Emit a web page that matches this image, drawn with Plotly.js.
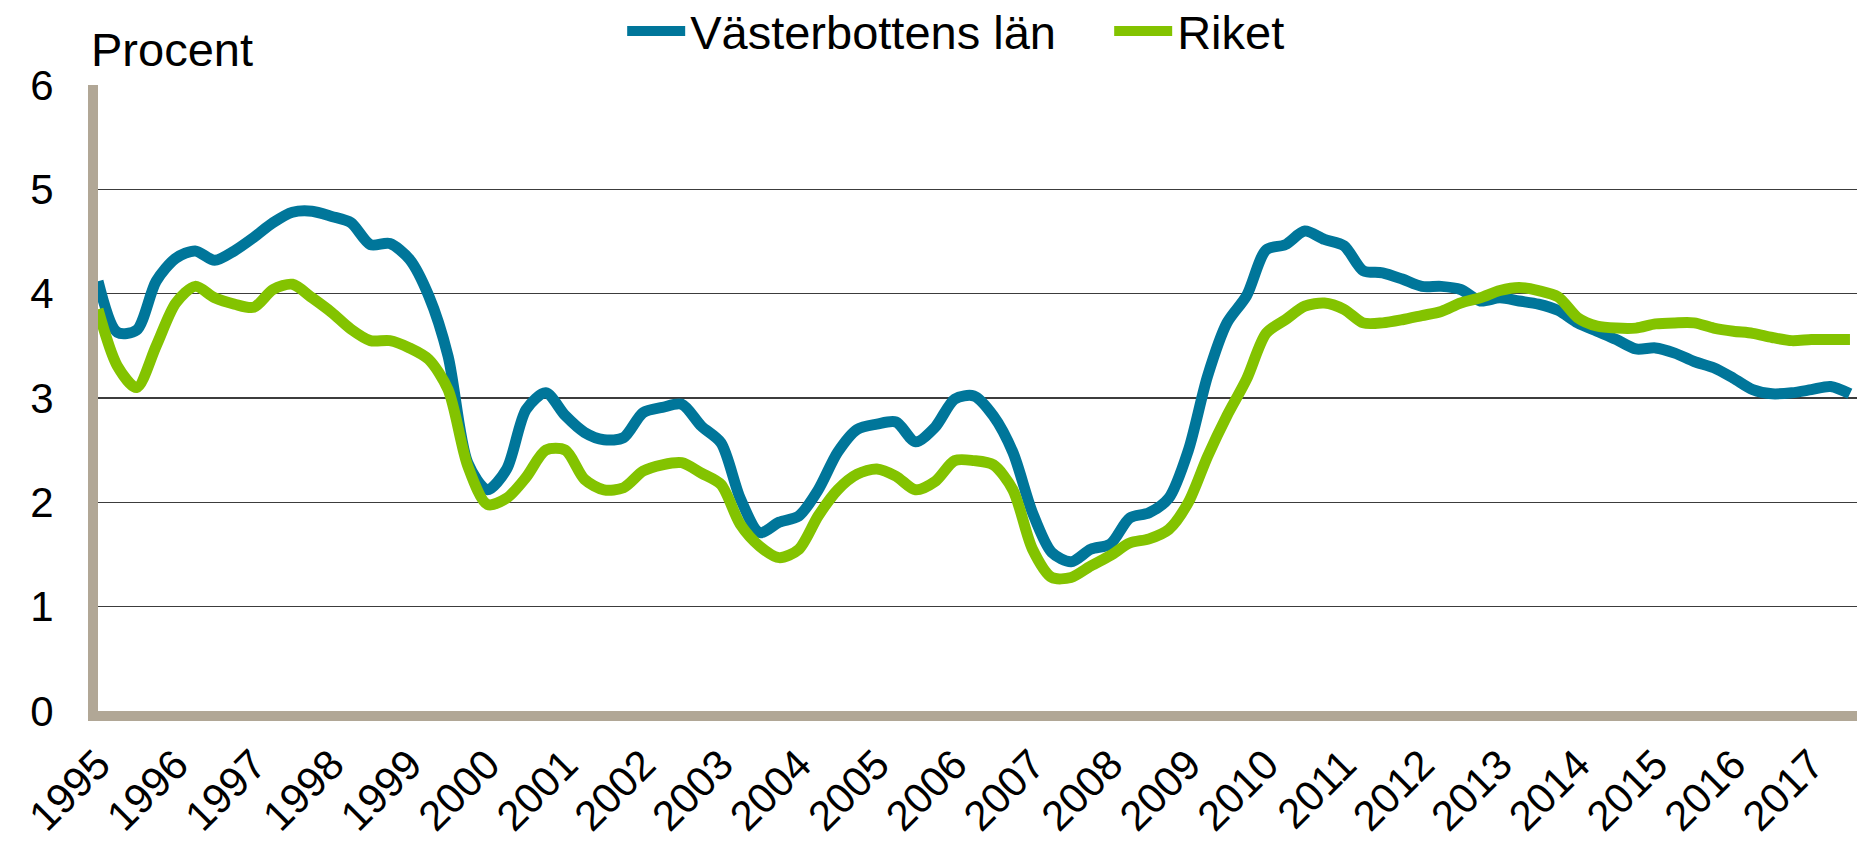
<!DOCTYPE html>
<html>
<head>
<meta charset="utf-8">
<script src="https://cdn.plot.ly/plotly-3.0.1.min.js"></script>
<style>
  html, body { margin: 0; padding: 0; background: #ffffff; }
  #chart { width: 1857px; height: 846px; }
</style>
</head>
<body>
<div id="chart"></div>
<script>
// Quarterly sample dates (Jan, Apr, Jul, Oct)
const dates = [
  "1995-01-01","1995-04-01","1995-07-01","1995-10-01",
  "1996-01-01","1996-04-01","1996-07-01","1996-10-01",
  "1997-01-01","1997-04-01","1997-07-01","1997-10-01",
  "1998-01-01","1998-04-01","1998-07-01","1998-10-01",
  "1999-01-01","1999-04-01","1999-07-01","1999-10-01",
  "2000-01-01","2000-04-01","2000-07-01","2000-10-01",
  "2001-01-01","2001-04-01","2001-07-01","2001-10-01",
  "2002-01-01","2002-04-01","2002-07-01","2002-10-01",
  "2003-01-01","2003-04-01","2003-07-01","2003-10-01",
  "2004-01-01","2004-04-01","2004-07-01","2004-10-01",
  "2005-01-01","2005-04-01","2005-07-01","2005-10-01",
  "2006-01-01","2006-04-01","2006-07-01","2006-10-01",
  "2007-01-01","2007-04-01","2007-07-01","2007-10-01",
  "2008-01-01","2008-04-01","2008-07-01","2008-10-01",
  "2009-01-01","2009-04-01","2009-07-01","2009-10-01",
  "2010-01-01","2010-04-01","2010-07-01","2010-10-01",
  "2011-01-01","2011-04-01","2011-07-01","2011-10-01",
  "2012-01-01","2012-04-01","2012-07-01","2012-10-01",
  "2013-01-01","2013-04-01","2013-07-01","2013-10-01",
  "2014-01-01","2014-04-01","2014-07-01","2014-10-01",
  "2015-01-01","2015-04-01","2015-07-01","2015-10-01",
  "2016-01-01","2016-04-01","2016-07-01","2016-10-01",
  "2017-01-01","2017-04-01","2017-07-01"
];

const vasterbotten = [
  4.12, 3.63, 3.65, 4.12,
  4.34, 4.41, 4.32, 4.41,
  4.54, 4.68, 4.78, 4.79,
  4.74, 4.68, 4.47, 4.48,
  4.33, 3.98, 3.40, 2.38,
  2.12, 2.32, 2.89, 3.05,
  2.83, 2.67, 2.60, 2.62,
  2.86, 2.91, 2.94, 2.73,
  2.57, 2.04, 1.71, 1.81,
  1.87, 2.12, 2.48, 2.70,
  2.75, 2.77, 2.58, 2.72,
  2.99, 3.02, 2.83, 2.48,
  1.90, 1.52, 1.43, 1.55,
  1.60, 1.85, 1.90, 2.04,
  2.50, 3.21, 3.72, 3.98,
  4.42, 4.47, 4.60, 4.52,
  4.46, 4.22, 4.20, 4.14,
  4.07, 4.07, 4.04, 3.93,
  3.96, 3.93, 3.90, 3.84,
  3.72, 3.64, 3.56, 3.47,
  3.48, 3.43, 3.35, 3.29,
  3.19, 3.08, 3.04, 3.05,
  3.08, 3.11, 3.04
];

const riket = [
  3.85, 3.31, 3.10, 3.50,
  3.91, 4.07, 3.96, 3.90,
  3.87, 4.04, 4.09, 3.96,
  3.82, 3.66, 3.55, 3.55,
  3.48, 3.37, 3.08, 2.35,
  1.98, 2.04, 2.24, 2.50,
  2.50, 2.22, 2.12, 2.14,
  2.30, 2.36, 2.38, 2.28,
  2.17, 1.79, 1.58, 1.47,
  1.55, 1.87, 2.12, 2.27,
  2.32, 2.25, 2.12, 2.20,
  2.40, 2.40, 2.36, 2.12,
  1.55, 1.28, 1.28, 1.39,
  1.49, 1.61, 1.65, 1.74,
  2.00, 2.44, 2.83, 3.18,
  3.62, 3.75, 3.88, 3.91,
  3.85, 3.72, 3.72, 3.75,
  3.79, 3.83, 3.91, 3.96,
  4.03, 4.06, 4.03, 3.97,
  3.77, 3.69, 3.67, 3.67,
  3.71, 3.72, 3.72, 3.67,
  3.64, 3.62, 3.58, 3.55,
  3.56, 3.56, 3.56
];

const seriesNames = ["Västerbottens län", "Riket"];
const yTickVals = [0, 1, 2, 3, 4, 5, 6];
const yTitle = "Procent";

const FONT = '"Liberation Sans", Arial, sans-serif';
const BLUE = '#00769A';
const GREEN = '#83C300';
const TAN = '#B1A796';

const traces = [
  {
    x: dates, y: vasterbotten, name: seriesNames[0], type: 'scatter', mode: 'lines',
    line: { color: BLUE, width: 11, shape: 'spline', smoothing: 0.8 },
    hoverinfo: 'x+y'
  },
  {
    x: dates, y: riket, name: seriesNames[1], type: 'scatter', mode: 'lines',
    line: { color: GREEN, width: 11, shape: 'spline', smoothing: 0.8 },
    hoverinfo: 'x+y'
  }
];

const layout = {
  width: 1857, height: 846,
  margin: { l: 98, r: 0, t: 85, b: 135, pad: 0, autoexpand: false },
  paper_bgcolor: '#ffffff', plot_bgcolor: '#ffffff',
  font: { family: FONT, size: 42, color: '#000000' },
  showlegend: true,
  legend: {
    orientation: 'h', xanchor: 'left', yanchor: 'middle',
    x: 0.298, y: 1.0855,
    font: { family: FONT, size: 47, color: '#000000' },
    itemwidth: 58, entrywidth: 414, entrywidthmode: 'pixels',
    bgcolor: 'rgba(0,0,0,0)', borderwidth: 0, traceorder: 'normal'
  },
  xaxis: {
    type: 'date', automargin: false,
    range: ['1995-01-01', '2017-08-03'],
    tick0: '1995-01-01', dtick: 'M12', tickformat: '%Y',
    tickangle: -45,
    showgrid: false, zeroline: false,
    showline: true, linecolor: TAN, linewidth: 10,
    ticks: '', ticklabelstandoff: 2,
    tickfont: { family: FONT, size: 42, color: '#000000' },
    fixedrange: true
  },
  yaxis: {
    automargin: false,
    range: [0, 6], tickvals: yTickVals, ticktext: yTickVals.map(String),
    showgrid: true, gridcolor: '#3c3c3c', gridwidth: 1.5,
    zeroline: false,
    showline: true, linecolor: TAN, linewidth: 10,
    ticks: '', ticklabelstandoff: 26,
    tickfont: { family: FONT, size: 42, color: '#000000' },
    fixedrange: true
  },
  annotations: [
    {
      text: yTitle, xref: 'paper', yref: 'paper',
      x: -0.005, y: 1.0565, xanchor: 'left', yanchor: 'middle',
      showarrow: false, font: { family: FONT, size: 47, color: '#000000' }
    }
  ]
};

Plotly.newPlot('chart', traces, layout, { displayModeBar: false, staticPlot: true });
</script>
</body>
</html>
